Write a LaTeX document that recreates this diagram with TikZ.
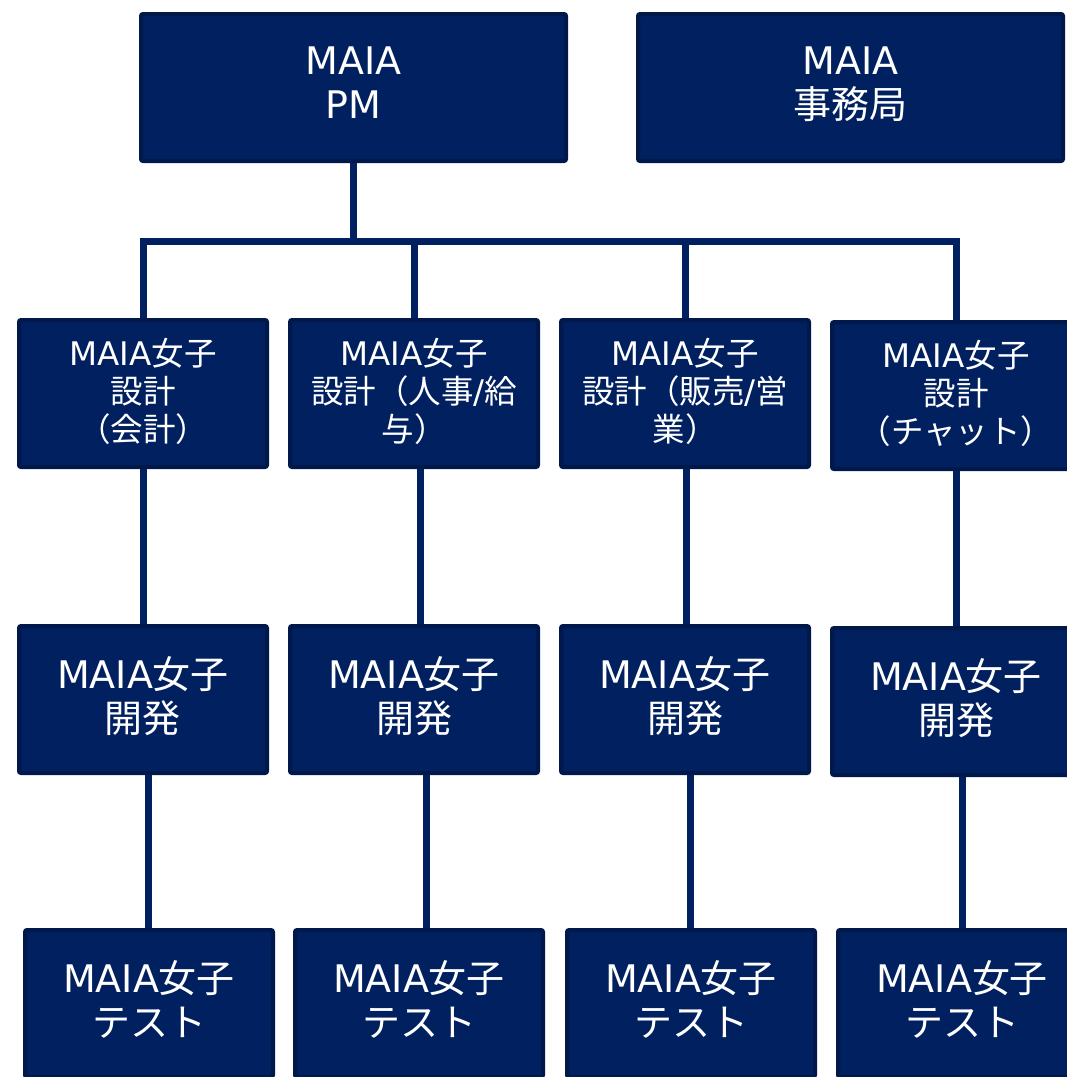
\documentclass[tikz,border=0pt]{standalone}
\usepackage{fontspec}
\setmainfont{Noto Sans CJK JP}
\newfontfamily\lat{DejaVu Sans}
\newcommand\maia{{\lat MAIA}}
\definecolor{navyfill}{HTML}{00205F}
\definecolor{navyedge}{HTML}{00184A}
\definecolor{navyline}{HTML}{00205F}
\tikzset{
  orgbox/.style={draw=navyedge, line width=4pt, fill=navyfill, rounded corners=2pt,
    text=white, align=center, inner sep=0pt, minimum width=248pt, minimum height=147pt},
  bigtxt/.style={font=\fontsize{38}{44}\selectfont, text depth=9pt},
  smalltxt/.style={font=\fontsize{32.5}{38}\selectfont, text depth=8pt},
  wide/.style={minimum width=425pt},
  link/.style={draw=navyline, line width=7pt}
}
\begin{document}
\begin{tikzpicture}[x=1pt,y=-1pt]
\useasboundingbox (0,0) rectangle (1067,1077);
\clip (0,0) rectangle (1067,1077);
% top
\node[orgbox,wide,bigtxt] (pm) at (353.5,87.5) {\maia\\{\lat PM}};
\node[orgbox,wide,bigtxt] (jim) at (850.5,87.5) {\maia\\事務局};
% row 2
\node[orgbox,smalltxt] (d1) at (143,393.5) {\maia 女子\\設計\\（会計）};
\node[orgbox,smalltxt] (d2) at (414,393.5) {\maia 女子\\設計（人事{\lat /}給\\与）};
\node[orgbox,smalltxt] (d3) at (685,393.5) {\maia 女子\\設計（販売{\lat /}営\\業）};
\node[orgbox,smalltxt] (d4) at (956,395.5) {\maia 女子\\設計\\（チャット）};
% row 3
\node[orgbox,bigtxt] (k1) at (143,699.5) {\maia 女子\\開発};
\node[orgbox,bigtxt] (k2) at (414,699.5) {\maia 女子\\開発};
\node[orgbox,bigtxt] (k3) at (685,699.5) {\maia 女子\\開発};
\node[orgbox,bigtxt] (k4) at (956,701.5) {\maia 女子\\開発};
% row 4
\node[orgbox,bigtxt] (t1) at (149,1003.5) {\maia 女子\\テスト};
\node[orgbox,bigtxt] (t2) at (419,1003.5) {\maia 女子\\テスト};
\node[orgbox,bigtxt] (t3) at (691,1003.5) {\maia 女子\\テスト};
\node[orgbox,bigtxt] (t4) at (962,1003.5) {\maia 女子\\テスト};
% connectors
\coordinate (bus) at (353.5,241);
\draw[link] (pm.south) -- (bus);
\draw[link,line cap=rect] (d1.north |- bus) -- (d4.north |- bus);
\foreach \n in {d1,d2,d3,d4} {\draw[link] (\n.north |- bus) -- (\n.north);}
\draw[link] (d1.south) -- (k1.north);
\draw[link] ([xshift=6pt]d2.south) -- ([xshift=6pt]d2.south |- k2.north);
\draw[link] ([xshift=1pt]d3.south) -- ([xshift=1pt]d3.south |- k3.north);
\draw[link] (d4.south) -- (k4.north);
\draw[link] ([xshift=5pt]k1.south) -- ([xshift=5pt]k1.south |- t1.north);
\draw[link] ([xshift=12pt]k2.south) -- ([xshift=12pt]k2.south |- t2.north);
\draw[link] ([xshift=5pt]k3.south) -- ([xshift=5pt]k3.south |- t3.north);
\draw[link] ([xshift=6pt]k4.south) -- ([xshift=6pt]k4.south |- t4.north);
\end{tikzpicture}
\end{document}
